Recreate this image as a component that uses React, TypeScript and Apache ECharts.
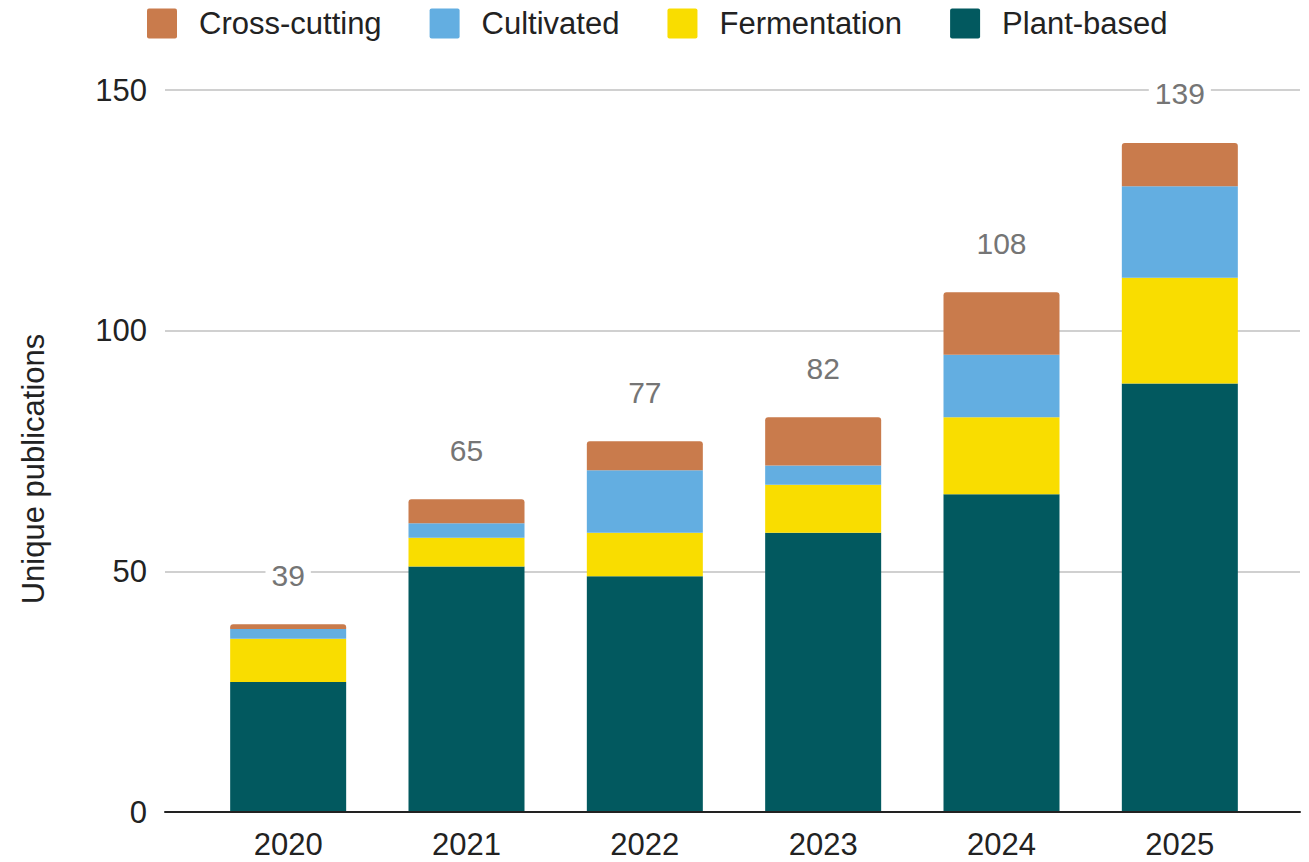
import React, { useEffect, useRef } from "react";
import * as echarts from "echarts";

const years = ["2020", "2021", "2022", "2023", "2024", "2025"];
const plantBased = [27, 51, 49, 58, 66, 89];
const fermentation = [9, 6, 9, 10, 16, 22];
const cultivated = [2, 3, 13, 4, 13, 19];
const crossCutting = [1, 5, 6, 10, 13, 9];
const totals = [39, 65, 77, 82, 108, 139];
const yTicks = [0, 50, 100, 150];

const FONT = "Liberation Sans, Arial, sans-serif";

export default function App() {
  const ref = useRef<HTMLDivElement>(null);
  useEffect(() => {
    if (!ref.current) return;
    const chart = echarts.init(ref.current, undefined, { renderer: "svg" });
    const yMax = yTicks[yTicks.length - 1];
    const yInterval = yTicks[1] - yTicks[0];
    chart.setOption({
      animation: false,
      backgroundColor: "#ffffff",
      textStyle: { fontFamily: FONT },
      legend: {
        data: ["Cross-cutting", "Cultivated", "Fermentation", "Plant-based"],
        left: 147,
        top: 8,
        padding: 0,
        itemWidth: 30,
        itemHeight: 30,
        itemGap: 48,
        icon: "path://M2,0 L28,0 Q30,0 30,2 L30,28 Q30,30 28,30 L2,30 Q0,30 0,28 L0,2 Q0,0 2,0 Z",
        textStyle: { fontSize: 31, color: "#222222", fontFamily: FONT, padding: [0, 0, 0, 17] },
      },
      grid: [
        { left: 199, right: 40, top: 90, bottom: 50 },
        { left: 165, right: 9, top: 90, bottom: 50 },
      ],
      xAxis: [
        {
          type: "category",
          data: years,
          gridIndex: 0,
          axisLine: { show: false },
          axisTick: { show: false },
          axisLabel: { fontSize: 31, lineHeight: 28, color: "#222222", margin: 18, fontFamily: FONT },
        },
        {
          type: "value",
          gridIndex: 1,
          min: 0,
          max: 1,
          z: 5,
          axisLine: { show: true, lineStyle: { color: "#222222", width: 2 } },
          axisTick: { show: false },
          axisLabel: { show: false },
          splitLine: { show: false },
        },
      ],
      yAxis: [
        {
          type: "value",
          gridIndex: 0,
          min: 0,
          max: yMax,
          interval: yInterval,
          axisLine: { show: false },
          axisTick: { show: false },
          axisLabel: { show: false },
          splitLine: { show: false },
        },
        {
          type: "value",
          gridIndex: 1,
          min: 0,
          max: yMax,
          interval: yInterval,
          axisLine: { show: false },
          axisTick: { show: false },
          axisLabel: { fontSize: 31, color: "#222222", margin: 18, fontFamily: FONT },
          splitLine: { show: true, lineStyle: { color: "#d0d0d0", width: 2 } },
        },
      ],
      graphic: [
        {
          type: "text",
          x: 33,
          y: 469,
          rotation: Math.PI / 2,
          style: {
            text: "Unique publications",
            fontSize: 31,
            fontFamily: FONT,
            fill: "#222222",
            align: "center",
            verticalAlign: "middle",
          },
        },
      ],
      series: [
        {
          name: "Plant-based",
          type: "bar",
          stack: "total",
          data: plantBased,
          barWidth: 116,
          itemStyle: { color: "#02595F" },
        },
        {
          name: "Fermentation",
          type: "bar",
          stack: "total",
          data: fermentation,
          barWidth: 116,
          itemStyle: { color: "#F9DD00" },
        },
        {
          name: "Cultivated",
          type: "bar",
          stack: "total",
          data: cultivated,
          barWidth: 116,
          itemStyle: { color: "#63AEE1" },
        },
        {
          name: "Cross-cutting",
          type: "bar",
          stack: "total",
          data: crossCutting,
          barWidth: 116,
          itemStyle: { color: "#C97B4C", borderRadius: [3, 3, 0, 0] },
          label: {
            show: true,
            position: "top",
            distance: 32,
            formatter: (p: any) => String(totals[p.dataIndex]),
            fontSize: 30,
            lineHeight: 30,
            color: "#757575",
            fontFamily: FONT,
            backgroundColor: "#ffffff",
            padding: [2, 6],
          },
        },
      ],
    });
    return () => chart.dispose();
  }, []);
  return (
    <div
      ref={ref}
      style={{ position: "fixed", left: 0, top: 0, width: 1309, height: 862 }}
    />
  );
}
